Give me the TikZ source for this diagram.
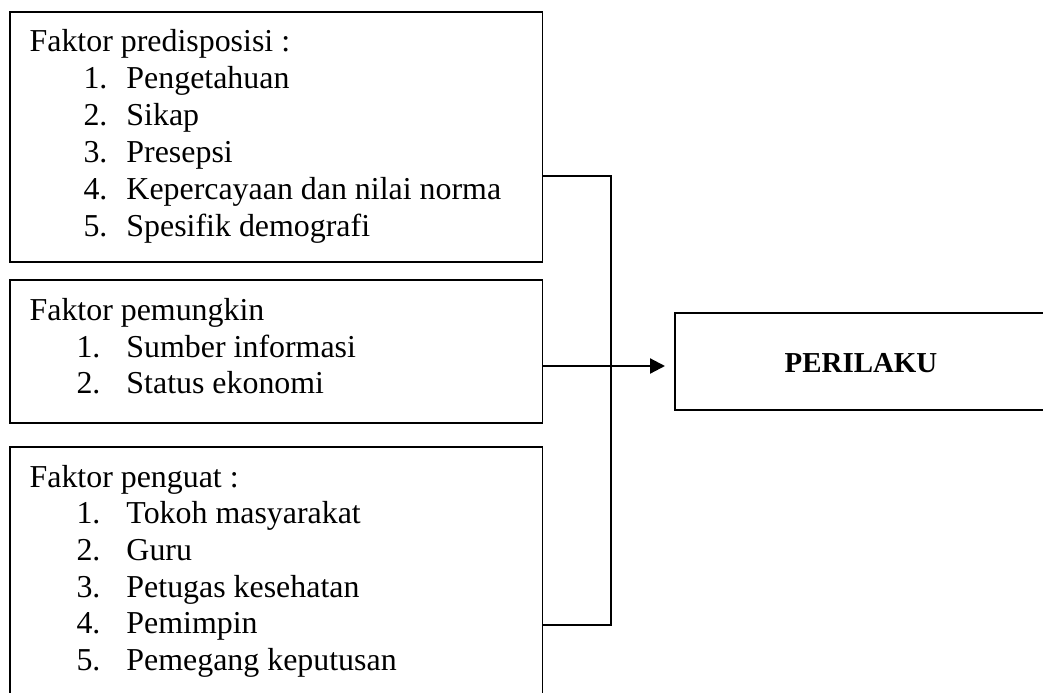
\documentclass[tikz,border=0pt]{standalone}
\usepackage{fontspec}
\setmainfont{Liberation Serif}
\usetikzlibrary{arrows.meta}
\begin{document}
\begin{tikzpicture}[x=1bp,y=1bp,
  box/.style={draw, line width=1.8bp, inner sep=0pt, outer sep=0pt, anchor=north west},
  txt/.style={anchor=base west, inner sep=0pt, outer sep=0pt, font=\fontsize{31.9bp}{36bp}\selectfont},
  conn/.style={line width=1.8bp},
  arr/.style={line width=2.2bp, -{Triangle[length=15bp,width=15bp]}}]
\useasboundingbox (0,0) rectangle (1043,-693);
\clip (0,0) rectangle (1043,-693);
% boxes
\node[box, minimum width=532.5bp, minimum height=250bp] (b1) at (10,-12) {};
\node[box, minimum width=532.5bp, minimum height=143bp] (b2) at (10,-280) {};
\node[box, minimum width=532.5bp, minimum height=280bp] (b3) at (10,-447) {};
\node[box, minimum width=400bp, minimum height=97bp] (per) at (675,-313) {};
% box 1 text
\node[txt] (t10) at (29.6,-52) {Faktor predisposisi :};
\node[txt] (t11) at (83.5,-88.8) {\makebox[43bp][l]{1.}Pengetahuan};
\node[txt] (t12) at (83.5,-125.6) {\makebox[43bp][l]{2.}Sikap};
\node[txt] (t13) at (83.5,-162.4) {\makebox[43bp][l]{3.}Presepsi};
\node[txt] (t14) at (83.5,-199.2) {\makebox[43bp][l]{4.}Kepercayaan dan nilai norma};
\node[txt] (t15) at (83.5,-236) {\makebox[43bp][l]{5.}Spesifik demografi};
% box 2 text
\node[txt] (t20) at (29.6,-320) {Faktor pemungkin};
\node[txt] (t21) at (76.5,-357) {\makebox[50bp][l]{1.}Sumber informasi};
\node[txt] (t22) at (76.5,-393.5) {\makebox[50bp][l]{2.}Status ekonomi};
% box 3 text
\node[txt] (t30) at (29.6,-487) {Faktor penguat :};
\node[txt] (t31) at (76.5,-523.5) {\makebox[50bp][l]{1.}Tokoh masyarakat};
\node[txt] (t32) at (76.5,-560) {\makebox[50bp][l]{2.}Guru};
\node[txt] (t33) at (76.5,-597) {\makebox[50bp][l]{3.}Petugas kesehatan};
\node[txt] (t34) at (76.5,-633.5) {\makebox[50bp][l]{4.}Pemimpin};
\node[txt] (t35) at (76.5,-670) {\makebox[50bp][l]{5.}Pemegang keputusan};
% result text
\node[anchor=base west, inner sep=0pt, font=\fontsize{28.9bp}{34bp}\selectfont\bfseries] (pt) at (784.5,-372) {PERILAKU};
% connectors
\coordinate (j1) at (611,-176);
\coordinate (j3) at (611,-625);
\coordinate (a1) at (0,-366);
\draw[conn] (b1.east |- j1) -- (j1) -- (j3) -- (b3.east |- j3);
\draw[arr] (b2.east |- a1) -- ([xshift=-10bp]per.west |- a1);
\end{tikzpicture}
\end{document}
